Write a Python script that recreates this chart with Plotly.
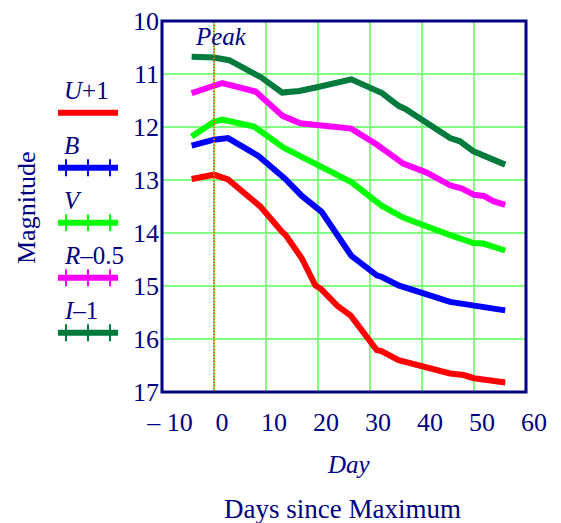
import plotly.graph_objects as go

# ---- data ----
U_day = [-4.3, 0, 2.7, 8, 8.9, 13.1, 13.7, 16.9, 19.5, 20.5, 23.7, 26.3, 31.3, 32.2, 35.5, 45.4, 48, 50, 56]
U_mag = [12.98, 12.9, 12.99, 13.44, 13.5, 13.98, 14.03, 14.48, 14.99, 15.05, 15.37, 15.56, 16.21, 16.23, 16.4, 16.65, 16.68, 16.74, 16.82]

B_day = [-4.3, 0, 2.7, 8, 8.6, 13.1, 13.7, 16.9, 20.7, 26.4, 31.3, 32.3, 35.5, 45.4, 49.9, 56]
B_mag = [12.35, 12.24, 12.21, 12.52, 12.55, 12.93, 12.98, 13.3, 13.6, 14.43, 14.8, 14.83, 14.99, 15.3, 15.37, 15.46]

V_day = [-4.3, 0, 1.6, 7.7, 13.4, 16.6, 19.8, 26.4, 32.3, 36.4, 45.4, 49.9, 51.8, 56]
V_mag = [12.18, 11.9, 11.86, 11.99, 12.39, 12.55, 12.68, 13.04, 13.49, 13.71, 14.04, 14.19, 14.2, 14.33]

R_day = [-4.3, 0, 1.6, 8, 13.2, 16.6, 20.5, 26.4, 31.3, 36.4, 40.9, 45.4, 47.7, 50, 51.9, 53.7, 56]
R_mag = [11.36, 11.22, 11.17, 11.33, 11.79, 11.93, 11.96, 12.03, 12.33, 12.69, 12.86, 13.1, 13.16, 13.28, 13.3, 13.4, 13.47]

I_day = [-4.3, 0, 2.9, 8.3, 9, 13.1, 16.4, 19.8, 26.4, 32.3, 35.5, 36.8, 45.4, 47.3, 49.9, 56]
I_mag = [10.675, 10.69, 10.74, 11.02, 11.06, 11.35, 11.32, 11.25, 11.1, 11.36, 11.6, 11.66, 12.21, 12.27, 12.46, 12.71]

series_labels = ["<i>U</i>+1", "<i>B</i>", "<i>V</i>", "<i>R</i>–0.5", "<i>I</i>–1"]
series_colors = ["#FF0000", "#0000FF", "#00FF00", "#FF00FF", "#007A3D"]
series_ticks = [False, True, True, True, True]

x_tickvals = [-10, 0, 10, 20, 30, 40, 50, 60]
x_ticktext = ["– 10", "0", "10", "20", "30", "40", "50", "60"]
y_tickvals = [10, 11, 12, 13, 14, 15, 16, 17]
peak_day = 0

NAVY = "#000080"
FONT = "Liberation Serif"
GRID = "#80FF80"

OFF = 8  # page body margin
W, H = 561 - OFF, 523 - OFF
# plot box in screen pixels
L, R, T, B = 162, 526, 21, 392


def px(x):
    return (x - L) / (R - L)


def py(y):
    return (B - y) / (B - T)


fig = go.Figure()
all_days = [U_day, B_day, V_day, R_day, I_day]
all_mags = [U_mag, B_mag, V_mag, R_mag, I_mag]
for d, m, c, lab in zip(all_days, all_mags, series_colors, series_labels):
    fig.add_trace(go.Scatter(x=d, y=m, mode="lines", line=dict(color=c, width=6),
                             name=lab, showlegend=False))

shapes = []
# peak line
shapes.append(dict(type="line", xref="x", yref="paper", x0=peak_day, x1=peak_day, y0=0, y1=1,
                   line=dict(color="#D86A10", width=2, dash="1.5px,1.5px"), layer="above"))
# plot border
shapes.append(dict(type="rect", xref="paper", yref="paper", x0=0, x1=1, y0=0, y1=1,
                   line=dict(color=NAVY, width=3), layer="above"))

annotations = []
# custom legend
for i, (lab, c, tk) in enumerate(zip(series_labels, series_colors, series_ticks)):
    ly = 112.7 + 55 * i
    shapes.append(dict(type="line", xref="paper", yref="paper", x0=px(58), x1=px(118),
                       y0=py(ly), y1=py(ly), line=dict(color=c, width=6)))
    if tk:
        for tx in (66, 88, 110):
            shapes.append(dict(type="line", xref="paper", yref="paper", x0=px(tx), x1=px(tx),
                               y0=py(ly - 8.5), y1=py(ly + 8.5), line=dict(color=c, width=2)))
    annotations.append(dict(text=lab, xref="paper", yref="paper", x=px(62), y=py(ly - 22),
                            xanchor="left", yanchor="middle", showarrow=False,
                            font=dict(family=FONT, size=25, color=NAVY)))

annotations.append(dict(text="<i>Peak</i>", xref="paper", yref="paper", x=px(193), y=py(37),
                        xanchor="left", yanchor="middle", showarrow=False,
                        font=dict(family=FONT, size=25, color=NAVY)))
annotations.append(dict(text="Magnitude", xref="paper", yref="paper", x=px(26), y=py(208),
                        xanchor="center", yanchor="middle", textangle=-90, showarrow=False,
                        font=dict(family=FONT, size=26, color=NAVY)))
annotations.append(dict(text="<i>Day</i>", xref="paper", yref="paper", x=px(349), y=py(464),
                        xanchor="center", yanchor="middle", showarrow=False,
                        font=dict(family=FONT, size=25, color=NAVY)))
annotations.append(dict(text="Days since Maximum", xref="paper", yref="paper", x=px(342), y=py(509),
                        xanchor="center", yanchor="middle", showarrow=False,
                        font=dict(family=FONT, size=27, color=NAVY)))

fig.update_layout(
    width=W, height=H,
    margin=dict(l=L - OFF, r=W - (R - OFF), t=T - OFF, b=H - (B - OFF), pad=0,
                autoexpand=False),
    paper_bgcolor="white", plot_bgcolor="white",
    showlegend=False,
    shapes=shapes, annotations=annotations,
    xaxis=dict(range=[-10, 60], tickvals=x_tickvals, ticktext=x_ticktext,
               showgrid=True, gridcolor=GRID, gridwidth=2, zeroline=False,
               showline=False, automargin=False, ticklabeloverflow="allow",
               ticks="", ticklabelstandoff=12, ticklabelshift=8,
               tickfont=dict(family=FONT, size=26, color=NAVY)),
    yaxis=dict(range=[17, 10], tickvals=y_tickvals,
               showgrid=True, gridcolor=GRID, gridwidth=2, zeroline=False,
               showline=False, automargin=False, ticklabeloverflow="allow",
               ticks="", ticklabelstandoff=2,
               tickfont=dict(family=FONT, size=26, color=NAVY)),
)

fig.write_html("out.html")
